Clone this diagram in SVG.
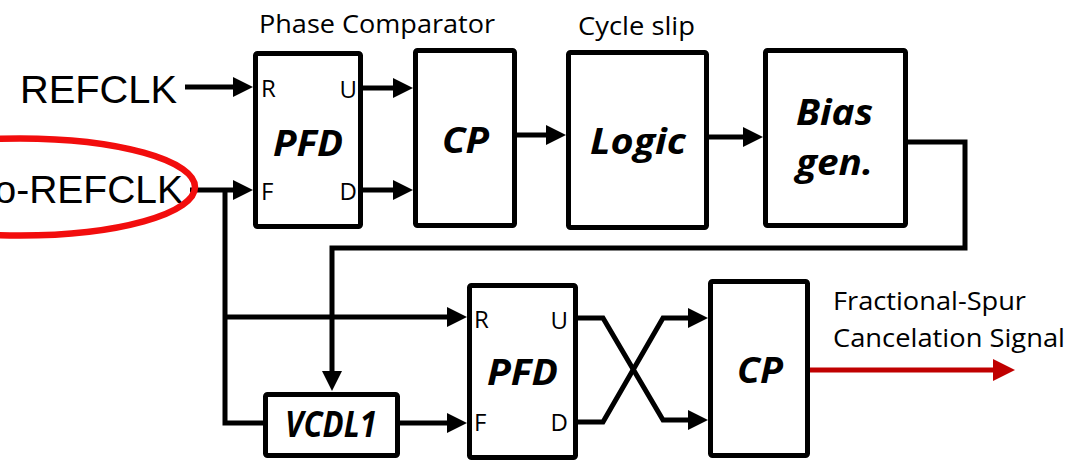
<svg xmlns="http://www.w3.org/2000/svg" width="1071" height="462" viewBox="0 0 1071 462">
  <defs>
    <marker id="head" markerUnits="userSpaceOnUse" markerWidth="22" markerHeight="22" refX="10" refY="10" orient="auto">
      <path d="M0,0 L20,10 L0,20 Z" fill="#000"/>
    </marker>
    <marker id="headRed" markerUnits="userSpaceOnUse" markerWidth="24" markerHeight="24" refX="10" refY="11" orient="auto">
      <path d="M0,0 L22,11 L0,22 Z" fill="#c00000"/>
    </marker>
    <style>
      .box { fill: #fff; stroke: #000; stroke-width: 5; }
      .wire { fill: none; stroke: #000; stroke-width: 5; stroke-linejoin: miter; }
      .blk { font-family: "Open Sans", "Noto Sans", sans-serif; font-weight: bold; font-style: italic; font-size: 35px; fill: #000; text-anchor: middle; }
      .pin { font-family: "Open Sans", "Noto Sans", sans-serif; font-size: 24px; fill: #000; }
      .lbl { font-family: "Open Sans", "Noto Sans", sans-serif; font-size: 25px; fill: #000; }
      .sig { font-family: "Liberation Sans", Arial, sans-serif; font-size: 39px; fill: #000; }
    </style>
  </defs>

  <rect width="1071" height="462" fill="#fff"/>

  <!-- connectors -->
  <g id="connectors">
    <path class="wire" d="M185,87 H243" marker-end="url(#head)"/>
    <path class="wire" d="M190,190 H243" marker-end="url(#head)"/>
    <path class="wire" d="M225,190 V423 H265"/>
    <path class="wire" d="M225,317 H457" marker-end="url(#head)"/>
    <path class="wire" d="M363,88 H403" marker-end="url(#head)"/>
    <path class="wire" d="M363,190 H403" marker-end="url(#head)"/>
    <path class="wire" d="M517,135 H556" marker-end="url(#head)"/>
    <path class="wire" d="M709,137 H753" marker-end="url(#head)"/>
    <path class="wire" d="M908,142 H965 V248 H332 V381" marker-end="url(#head)"/>
    <path class="wire" d="M400,423 H457" marker-end="url(#head)"/>
    <path class="wire" d="M578,318 H603 L663,420 H698" marker-end="url(#head)"/>
    <path class="wire" d="M578,422 H603 L663,318 H698" marker-end="url(#head)"/>
    <path d="M810,370 H1003" fill="none" stroke="#c00000" stroke-width="5" marker-end="url(#headRed)"/>
  </g>

  <!-- input signals -->
  <g id="refclk">
    <text class="sig" x="20" y="103" textLength="157" lengthAdjust="spacingAndGlyphs">REFCLK</text>
  </g>
  <g id="fb-refclk">
    <text class="sig" x="183" y="203" text-anchor="end">o-REFCLK</text>
    <ellipse cx="20" cy="187" rx="175" ry="48.5" fill="none" stroke="#f20d0d" stroke-width="6.5"/>
  </g>

  <!-- phase comparator -->
  <g id="pfd1">
    <rect class="box" x="255.5" y="53.5" width="105" height="173" rx="2"/>
    <text class="blk" x="308" y="156" textLength="70" lengthAdjust="spacingAndGlyphs">PFD</text>
    <text class="pin" x="261" y="97">R</text>
    <text class="pin" x="357" y="98" text-anchor="end">U</text>
    <text class="pin" x="261" y="200">F</text>
    <text class="pin" x="357" y="200" text-anchor="end">D</text>
    <text class="lbl" x="259" y="33" textLength="236" lengthAdjust="spacingAndGlyphs">Phase Comparator</text>
  </g>

  <g id="cp1">
    <rect class="box" x="415.5" y="50.5" width="99" height="175" rx="2"/>
    <text class="blk" x="465.5" y="153" textLength="47" lengthAdjust="spacingAndGlyphs">CP</text>
  </g>

  <g id="logic">
    <rect class="box" x="568.5" y="52.5" width="138" height="175" rx="2"/>
    <text class="blk" x="638" y="154" textLength="96" lengthAdjust="spacingAndGlyphs">Logic</text>
    <text class="lbl" x="578" y="35" textLength="117" lengthAdjust="spacingAndGlyphs">Cycle slip</text>
  </g>

  <g id="bias-gen">
    <rect class="box" x="765.5" y="50.5" width="140" height="175" rx="2"/>
    <text class="blk" x="834.5" y="125" textLength="77" lengthAdjust="spacingAndGlyphs">Bias</text>
    <text class="blk" x="834.5" y="175" textLength="77" lengthAdjust="spacingAndGlyphs">gen.</text>
  </g>

  <g id="vcdl1">
    <rect class="box" x="265.5" y="394.5" width="132" height="61" rx="2"/>
    <text class="blk" x="331" y="437" font-size="32" textLength="92" lengthAdjust="spacingAndGlyphs">VCDL1</text>
  </g>

  <g id="pfd2">
    <rect class="box" x="469.5" y="285.5" width="106" height="172" rx="2"/>
    <text class="blk" x="522.5" y="385" textLength="71" lengthAdjust="spacingAndGlyphs">PFD</text>
    <text class="pin" x="474" y="328">R</text>
    <text class="pin" x="568" y="329" text-anchor="end">U</text>
    <text class="pin" x="474" y="431">F</text>
    <text class="pin" x="568" y="431" text-anchor="end">D</text>
  </g>

  <g id="cp2">
    <rect class="box" x="710.5" y="281.5" width="97" height="174" rx="2"/>
    <text class="blk" x="760" y="383" textLength="46" lengthAdjust="spacingAndGlyphs">CP</text>
  </g>

  <g id="output">
    <text class="lbl" x="833" y="310" textLength="193" lengthAdjust="spacingAndGlyphs">Fractional-Spur</text>
    <text class="lbl" x="833" y="347" textLength="232" lengthAdjust="spacingAndGlyphs">Cancelation Signal</text>
  </g>
</svg>
